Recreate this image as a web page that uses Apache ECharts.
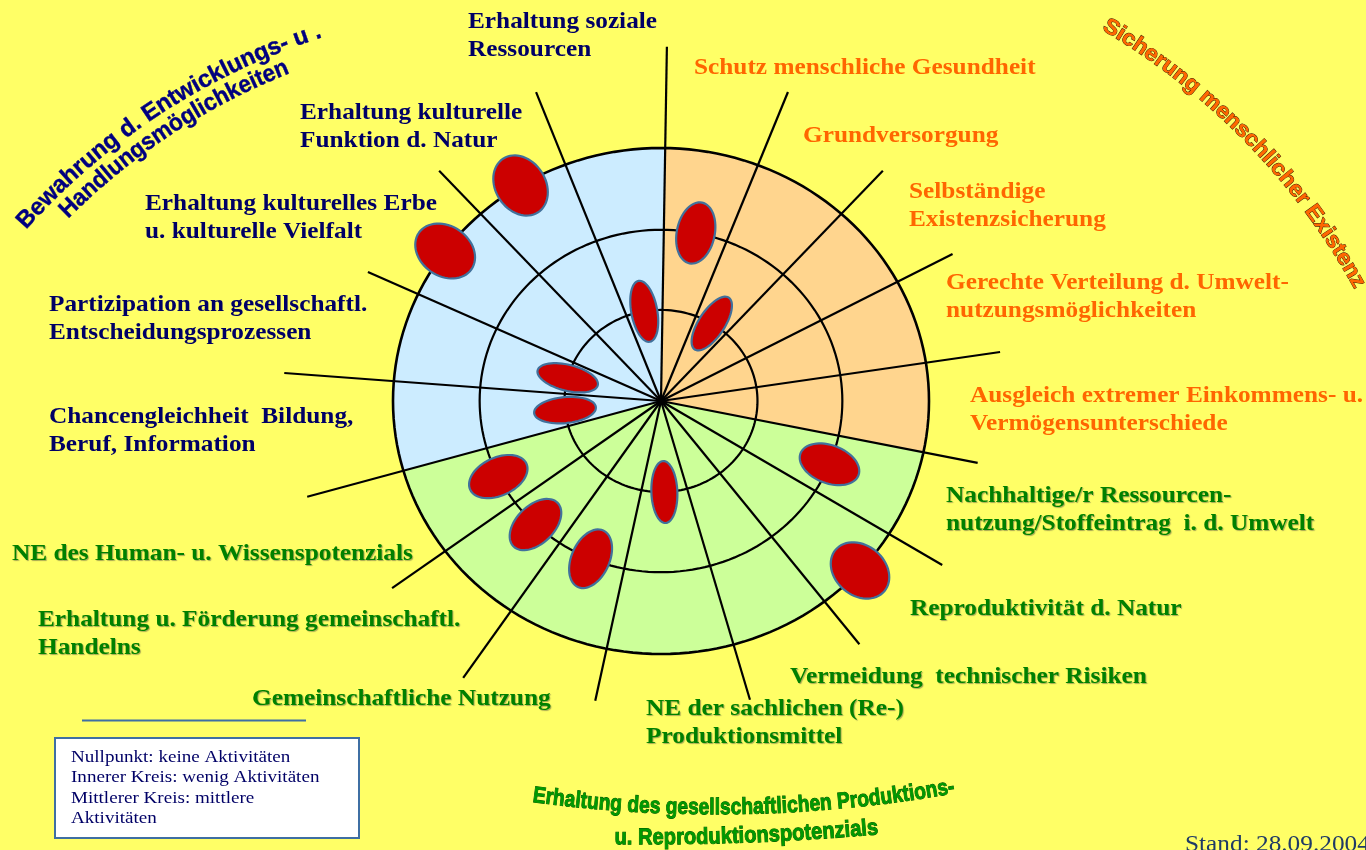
<!DOCTYPE html>
<html>
<head>
<meta charset="utf-8">
<script src="https://cdn.jsdelivr.net/npm/echarts@6/dist/echarts.min.js"></script>
<style>
html,body{margin:0;padding:0;background:#FFFF66;}
#c{width:1366px;height:850px;}
</style>
</head>
<body>
<div id="c"></div>
<script>
// ---------------- DATA ----------------
// categories in clockwise order, starting at the top spoke
const categories = [
  'Schutz menschliche Gesundheit',
  'Grundversorgung',
  'Selbständige\nExistenzsicherung',
  'Gerechte Verteilung d. Umwelt-\nnutzungsmöglichkeiten',
  'Ausgleich extremer Einkommens- u.\nVermögensunterschiede',
  'Nachhaltige/r Ressourcen-\nnutzung/Stoffeintrag  i. d. Umwelt',
  'Reproduktivität d. Natur',
  'Vermeidung  technischer Risiken',
  'NE der sachlichen (Re-)\nProduktionsmittel',
  'Gemeinschaftliche Nutzung',
  'Erhaltung u. Förderung gemeinschaftl.\nHandelns',
  'NE des Human- u. Wissenspotenzials',
  'Chancengleichheit  Bildung,\nBeruf, Information',
  'Partizipation an gesellschaftl.\nEntscheidungsprozessen',
  'Erhaltung kulturelles Erbe\nu. kulturelle Vielfalt',
  'Erhaltung kulturelle\nFunktion d. Natur',
  'Erhaltung soziale\nRessourcen'
];
// group of each category: 0 = Sicherung menschlicher Existenz, 1 = Produktionspotenzial, 2 = Entwicklungsmöglichkeiten
const categoryGroup = [0,0,0,0,0, 1,1,1,1,1,1,1, 2,2,2,2,2];
// activity level per category (1 = inner circle, 2 = middle circle, 3 = outer circle, null = none)
const activityLevel = [2, 1, null, null, null, 2, 3, null, 1, 2, 2, 2, 1, 1, 3, 3, 1];
// spoke directions (degrees, counter-clockwise from east) and spoke lengths (outer circle = 3)
const spokeAngles  = [89.1, 68.8, 47.7, 28.1, 8.7, -11.7, -31.7, -52.4, -74.3, -101.7, -124.0, -143.6, -164.0, -184.5, -205.0, -227.7, -249.1];
const spokeLengths = [4.20, 3.93, 3.69, 3.70, 3.84, 3.62, 3.70, 3.64, 3.68, 3.63, 3.96, 3.74, 4.12, 4.23, 3.62, 3.69, 3.92];
// circle levels (inner, middle, outer)
const ringRadii = [1.08, 2.03, 3];
const groupTitles = [
  ['Sicherung menschlicher Existenz'],
  ['Erhaltung des gesellschaftlichen Produktions-', 'u. Reproduktionspotenzials'],
  ['Bewahrung d. Entwicklungs- u .', 'Handlungsmöglichkeiten']
];
const legendLines = ['Nullpunkt: keine Aktivitäten', 'Innerer Kreis: wenig Aktivitäten', 'Mittlerer Kreis: mittlere', 'Aktivitäten'];
const standText = 'Stand: 28.09.2004';

// ---------------- STYLE / LAYOUT ----------------
const sectorFill = ['#FFD58E', '#CCFF99', '#CCECFF'];
const labelColor = ['#FF6600', '#008000', '#000066'];
const labelLayout = [
  [694, 68], [803, 136], [909, 192], [946, 283], [970, 396],
  [946, 496], [910, 609], [790, 677.5], [646, 709], [252, 699], [38, 620.5], [12, 554],
  [49, 417], [49, 305], [145, 204], [300, 113], [468, 22]
];
const N = categories.length;
const OUTER = ringRadii[ringRadii.length - 1];
const deg = Math.PI / 180;

function sectorBounds(i) {
  const a0 = spokeAngles[i];
  let a1 = spokeAngles[(i + 1) % N];
  if (i + 1 === N) a1 -= 360;
  return [a0, a1];
}

const ellipseData = [];
activityLevel.forEach((lv, i) => {
  if (lv == null) return;
  const [a0, a1] = sectorBounds(i);
  const m = (a0 + a1) / 2 * deg;
  const r = ringRadii[lv - 1];
  ellipseData.push([r * Math.cos(m), r * Math.sin(m), lv, i]);
});
const ellipseSize = {1: [62, 26], 2: [62, 38], 3: [64, 50]};

// ---------------- TEXT HELPERS ----------------
const mctx = document.createElement('canvas').getContext('2d');
function arcText(txt, cx, cy, r, a0, a1, o) {
  const font = 'bold ' + o.size + 'px "Liberation Sans"';
  mctx.font = font;
  const chars = Array.from(txt);
  const w = chars.map(ch => mctx.measureText(ch).width);
  const total = w.reduce((a, b) => a + b, 0);
  const span = Math.abs(a1 - a0);
  const arcLen = span * deg * r;
  const s = arcLen / total;
  const dir = a1 > a0 ? 1 : -1;
  let acc = 0;
  const out = [];
  chars.forEach((ch, k) => {
    const mid = acc + w[k] / 2; acc += w[k];
    const phi = (a0 + dir * (mid / total) * span) * deg;
    const x = cx + r * Math.cos(phi), y = cy + r * Math.sin(phi);
    const rot = dir > 0 ? -(phi + Math.PI / 2) : (Math.PI / 2 - phi);
    if (ch === ' ') return;
    out.push({
      type: 'text', x: x, y: y, rotation: rot, scaleX: s, silent: true, z: 100,
      style: {
        text: ch, fontSize: o.size, fontWeight: 'bold', fontFamily: 'Liberation Sans',
        fill: o.fill, stroke: o.stroke || null, lineWidth: o.lw || 0,
        align: 'center', verticalAlign: 'middle', textAlign: 'center', textVerticalAlign: 'middle'
      }
    });
  });
  return out;
}

const graphics = [];
// category labels
categories.forEach((c, i) => {
  const g = categoryGroup[i];
  const st = {
    text: c, fontSize: 23, fontWeight: 'bold', fontFamily: 'Liberation Serif',
    fill: labelColor[g], lineHeight: 28,
    align: 'left', verticalAlign: 'top', textAlign: 'left', textVerticalAlign: 'top'
  };
  if (g === 1) {
    st.textShadowColor = 'rgba(60,60,60,0.45)';
    st.textShadowBlur = 1;
    st.textShadowOffsetX = 1;
    st.textShadowOffsetY = 1;
  }
  graphics.push({type: 'text', x: labelLayout[i][0], y: labelLayout[i][1] - 14, scaleX: 1.1, silent: true, z: 90, style: st});
});
// curved group titles
graphics.push(...arcText(groupTitles[2][0], 526, 675, 676, 221.7, 252.3, {size: 24, fill: '#00007F', stroke: '#00007F', lw: 0.4}));
graphics.push(...arcText(groupTitles[2][1], 526, 675, 653, 224.9, 248.6, {size: 24, fill: '#00007F', stroke: '#00007F', lw: 0.4}));
graphics.push(...arcText(groupTitles[0][0], 758, 617.5, 687, 300.3, 331.2, {size: 22, fill: '#FF6600', stroke: '#3a1500', lw: 0.9}));
graphics.push(...arcText(groupTitles[1][0], 715.6, -546, 1354, 97.75, 79.85, {size: 23, fill: '#009900', stroke: '#005000', lw: 0.9}));
graphics.push(...arcText(groupTitles[1][1], 649, -1790, 2628, 90.75, 85.0, {size: 23, fill: '#009900', stroke: '#005000', lw: 0.9}));
// legend box
graphics.push({type: 'line', silent: true, z: 90, shape: {x1: 82, y1: 720.5, x2: 306, y2: 720.5}, style: {stroke: '#3F6FA3', lineWidth: 2}});
graphics.push({type: 'rect', silent: true, z: 90, shape: {x: 55, y: 738, width: 304, height: 100}, style: {fill: '#FFFFFF', stroke: '#3F6FA3', lineWidth: 2}});
graphics.push({type: 'text', x: 71, y: 757.5 - 10.15, scaleX: 1.09, silent: true, z: 91,
  style: {text: legendLines.join('\n'), fontSize: 17.5, fontFamily: 'Liberation Serif', fill: '#000066', lineHeight: 20.3,
    align: 'left', verticalAlign: 'top', textAlign: 'left', textVerticalAlign: 'top'}});
graphics.push({type: 'text', x: 1185, y: 845, scaleX: 1.1, silent: true, z: 91,
  style: {text: standText, fontSize: 23, fontFamily: 'Liberation Serif', fill: '#1F3A66',
    align: 'left', verticalAlign: 'middle', textAlign: 'left', textVerticalAlign: 'middle'}});

// ---------------- CHART ----------------
const chart = echarts.init(document.getElementById('c'), null, {renderer: 'canvas'});
const CX = 661, CY = 401, SX = 268 / 3, SY = 253 / 3, HALF = 4.5;

function ellipsePts(px, py, a, b, ang) {
  const pts = [];
  const ca = Math.cos(ang), sa = Math.sin(ang);
  for (let k = 0; k < 64; k++) {
    const t = k / 64 * 2 * Math.PI;
    const ex = a * Math.cos(t), ey = b * Math.sin(t);
    pts.push([px + ex * ca - ey * sa, py + ex * sa + ey * ca]);
  }
  return pts;
}

chart.setOption({
  backgroundColor: '#FFFF66',
  animation: false,
  grid: {left: CX - HALF * SX, width: 2 * HALF * SX, top: CY - HALF * SY, height: 2 * HALF * SY},
  xAxis: {type: 'value', min: -HALF, max: HALF, show: false},
  yAxis: {type: 'value', min: -HALF, max: HALF, show: false},
  graphic: graphics,
  series: [
    { // coloured sectors
      type: 'custom', coordinateSystem: 'cartesian2d', z: 1, silent: true, clip: false,
      data: categories.map((c, i) => [0, 0, i]),
      renderItem: function (params, api) {
        const i = api.value(2);
        const [a0, a1] = sectorBounds(i);
        const pts = [api.coord([0, 0])];
        const n = 30;
        for (let k = 0; k <= n; k++) {
          const t = (a0 + (a1 - a0) * k / n) * deg;
          pts.push(api.coord([OUTER * Math.cos(t), OUTER * Math.sin(t)]));
        }
        const col = sectorFill[categoryGroup[i]];
        return {type: 'polygon', shape: {points: pts}, style: {fill: col, stroke: col, lineWidth: 0.6}};
      }
    },
    { // circles
      type: 'custom', coordinateSystem: 'cartesian2d', z: 2, silent: true, clip: false,
      data: ringRadii.map(r => [0, 0, r]),
      renderItem: function (params, api) {
        const r = api.value(2);
        const pts = [];
        for (let k = 0; k < 180; k++) {
          const t = k * 2 * deg;
          pts.push(api.coord([r * Math.cos(t), r * Math.sin(t)]));
        }
        return {type: 'polygon', shape: {points: pts}, style: {fill: null, stroke: '#000', lineWidth: r === OUTER ? 2.6 : 2.2}};
      }
    },
    { // spokes
      type: 'custom', coordinateSystem: 'cartesian2d', z: 3, silent: true, clip: false,
      data: spokeAngles.map((a, i) => [0, 0, a, spokeLengths[i]]),
      renderItem: function (params, api) {
        const a = api.value(2) * deg, L = api.value(3);
        const p0 = api.coord([0, 0]);
        const p1 = api.coord([L * Math.cos(a), L * Math.sin(a)]);
        return {type: 'line', shape: {x1: p0[0], y1: p0[1], x2: p1[0], y2: p1[1]}, style: {stroke: '#000', lineWidth: 2.2}};
      }
    },
    { // activity ellipses
      type: 'custom', coordinateSystem: 'cartesian2d', z: 4, silent: true, clip: false,
      data: ellipseData,
      renderItem: function (params, api) {
        const p = api.coord([api.value(0), api.value(1)]);
        const c = api.coord([0, 0]);
        const ang = Math.atan2(p[1] - c[1], p[0] - c[0]);
        const sz = ellipseSize[api.value(2)];
        return {type: 'polygon', shape: {points: ellipsePts(p[0], p[1], sz[0] / 2, sz[1] / 2, ang)},
          style: {fill: '#CC0000', stroke: '#41719C', lineWidth: 2.2}};
      }
    }
  ]
});
</script>
</body>
</html>
